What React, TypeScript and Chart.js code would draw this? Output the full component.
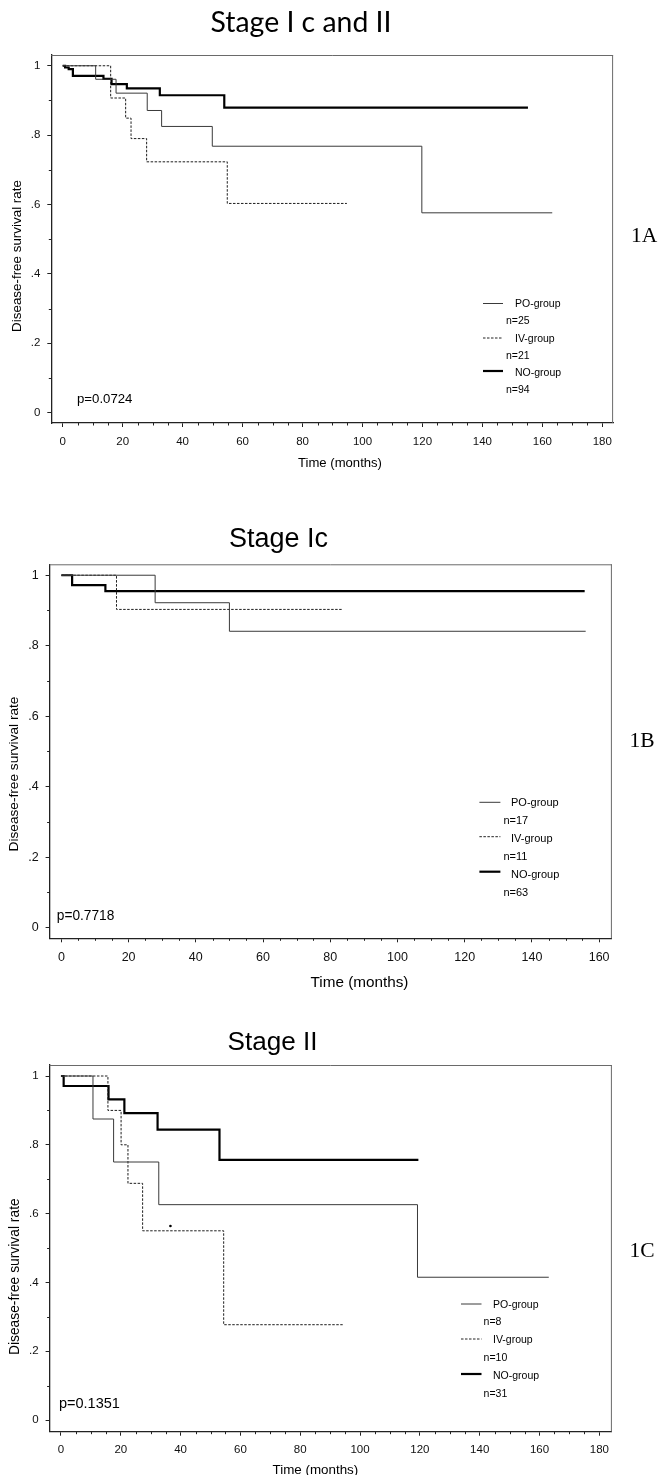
import React, { useEffect, useRef } from "react";
import { Chart, registerables } from "chart.js";

Chart.register(...registerables);

// ---------------- DATA ----------------
// Panel 1A: Stage I c and II  (time in months, disease-free survival)
const A_PO_T = [0, 11.0, 17.8, 28.2, 33.0, 49.9, 119.8, 163.3];
const A_PO_S = [1, 0.961, 0.921, 0.871, 0.825, 0.768, 0.576, 0.576];
const A_IV_T = [0, 16.0, 21.0, 22.8, 28.0, 54.9, 94.8];
const A_IV_S = [1, 0.907, 0.849, 0.79, 0.723, 0.603, 0.603];
const A_NO_T = [0, 0.8, 2.0, 3.4, 13.6, 16.3, 21.4, 32.4, 53.9, 155.2];
const A_NO_S = [1, 0.995, 0.99, 0.971, 0.962, 0.947, 0.935, 0.915, 0.879, 0.879];
const A_N = ["n=25", "n=21", "n=94"];

// Panel 1B: Stage Ic
const B_PO_T = [0, 27.9, 50.0, 156.0];
const B_PO_S = [1, 0.922, 0.841, 0.841];
const B_IV_T = [0, 16.4, 83.8];
const B_IV_S = [1, 0.903, 0.903];
const B_NO_T = [0, 3.2, 13.1, 155.7];
const B_NO_S = [1, 0.972, 0.955, 0.955];
const B_N = ["n=17", "n=11", "n=63"];

// Panel 1C: Stage II
const C_PO_T = [0, 10.7, 17.6, 32.7, 119.2, 163.1];
const C_PO_S = [1, 0.875, 0.75, 0.626, 0.415, 0.415];
const C_IV_T = [0, 15.7, 20.1, 22.4, 27.3, 54.4, 94.2];
const C_IV_S = [1, 0.9, 0.8, 0.688, 0.55, 0.277, 0.277];
const C_NO_T = [0, 0.9, 15.9, 21.2, 32.3, 53.0, 119.5];
const C_NO_S = [1, 0.971, 0.932, 0.892, 0.844, 0.756, 0.756];
const C_MARK_T = [36.6];
const C_MARK_S = [0.564];
const C_N = ["n=8", "n=10", "n=31"];

const GROUPS = ["PO-group", "IV-group", "NO-group"];
const X_TICKS_180 = [0, 20, 40, 60, 80, 100, 120, 140, 160, 180];
const X_TICKS_160 = [0, 20, 40, 60, 80, 100, 120, 140, 160];
const Y_TICKS = [0, 0.2, 0.4, 0.6, 0.8, 1];
const Y_TICK_LABELS = ["0", ".2", ".4", ".6", ".8", "1"];
const X_TITLE = "Time (months)";
const Y_TITLE = "Disease-free survival rate";

// ---------------- STYLE / LAYOUT ----------------
const SANS = '"Liberation Sans", Arial, Helvetica, sans-serif';
const SERIF = '"Liberation Serif", "Times New Roman", serif';
const HUMANIST = 'Lato, "Open Sans", "Noto Sans", sans-serif';
const W = 659;

type Pt = { x: number; y: number };
const pts = (t: number[], s: number[]): Pt[] => t.map((x, i) => ({ x, y: s[i] }));

interface Panel {
  top: number;
  height: number;
  frame: { l: number; r: number; t: number; b: number };
  xMin: number;
  xMax: number;
  yMin: number;
  yMax: number;
  xTicks: number[];
  tickSize: number;
  po: Pt[];
  iv: Pt[];
  no: Pt[];
  marks: Pt[];
  title: { text: string; cx: number; base: number; w: number; font: string };
  yTitle: { cx: number; cy: number; w: number };
  xTitle: { cx: number; cy: number; w: number };
  p: { text: string; x: number; cy: number; w: number };
  tag: { text: string; x: number; base: number };
  legend: {
    lx1: number;
    lx2: number;
    ly: number[];
    tx: number;
    ty: number[];
    nx: number;
    ny: number[];
    n: string[];
    size: number;
  };
}

const PANELS: Panel[] = [
  {
    top: 0,
    height: 475,
    frame: { l: 51.3, r: 613.1, t: 55, b: 423 },
    xMin: -3.8,
    xMax: 183.6,
    yMin: -0.03,
    yMax: 1.031,
    xTicks: X_TICKS_180,
    tickSize: 11.5,
    po: pts(A_PO_T, A_PO_S),
    iv: pts(A_IV_T, A_IV_S),
    no: pts(A_NO_T, A_NO_S),
    marks: [],
    title: { text: "Stage I c and II", cx: 301, base: 31.7, w: 181, font: HUMANIST },
    yTitle: { cx: 17.7, cy: 256, w: 152 },
    xTitle: { cx: 340, cy: 463, w: 84 },
    p: { text: "p=0.0724", x: 77, cy: 399, w: 55.5 },
    tag: { text: "1A", x: 631, base: 242 },
    legend: {
      lx1: 483,
      lx2: 503,
      ly: [303.5, 338, 371],
      tx: 515,
      ty: [304.3, 338.7, 373.3],
      nx: 506,
      ny: [321, 355.7, 390.5],
      n: A_N,
      size: 10.5,
    },
  },
  {
    top: 480,
    height: 510,
    frame: { l: 49.6, r: 611.9, t: 564.3, b: 938.3 },
    xMin: -3.5,
    xMax: 163.8,
    yMin: -0.03,
    yMax: 1.031,
    xTicks: X_TICKS_160,
    tickSize: 12.5,
    po: pts(B_PO_T, B_PO_S),
    iv: pts(B_IV_T, B_IV_S),
    no: pts(B_NO_T, B_NO_S),
    marks: [],
    title: { text: "Stage Ic", cx: 278.5, base: 546.7, w: 99, font: SANS },
    yTitle: { cx: 14.7, cy: 774, w: 155 },
    xTitle: { cx: 359.5, cy: 983, w: 98 },
    p: { text: "p=0.7718", x: 56.8, cy: 916.7, w: 57.6 },
    tag: { text: "1B", x: 629.5, base: 747.3 },
    legend: {
      lx1: 479.4,
      lx2: 500.4,
      ly: [802.3, 836.7, 871.7],
      tx: 511,
      ty: [803, 839, 875],
      nx: 503.4,
      ny: [821, 857, 893],
      n: B_N,
      size: 11,
    },
  },
  {
    top: 990,
    height: 485,
    frame: { l: 49.6, r: 611.9, t: 1065, b: 1431.7 },
    xMin: -3.8,
    xMax: 184.2,
    yMin: -0.034,
    yMax: 1.032,
    xTicks: X_TICKS_180,
    tickSize: 11.5,
    po: pts(C_PO_T, C_PO_S),
    iv: pts(C_IV_T, C_IV_S),
    no: pts(C_NO_T, C_NO_S),
    marks: pts(C_MARK_T, C_MARK_S),
    title: { text: "Stage II", cx: 272.5, base: 1050, w: 90, font: SANS },
    yTitle: { cx: 14.7, cy: 1276.7, w: 157 },
    xTitle: { cx: 315.4, cy: 1470, w: 85.8 },
    p: { text: "p=0.1351", x: 58.9, cy: 1404, w: 61 },
    tag: { text: "1C", x: 629.5, base: 1256.7 },
    legend: {
      lx1: 461,
      lx2: 481.5,
      ly: [1304, 1339, 1374],
      tx: 493,
      ty: [1305, 1340, 1376],
      nx: 483.6,
      ny: [1322, 1358, 1394],
      n: C_N,
      size: 10.5,
    },
  },
];

function fitFont(ctx: CanvasRenderingContext2D, text: string, family: string, w: number) {
  ctx.font = `100px ${family}`;
  const m = ctx.measureText(text).width || 1;
  return (100 * w) / m;
}

function makeDecorPlugin(p: Panel) {
  return {
    id: "decor",
    afterDraw(chart: any) {
      const ctx: CanvasRenderingContext2D = chart.ctx;
      const ca = chart.chartArea;
      const xs = chart.scales.x;
      const ys = chart.scales.y;
      const off = p.top;
      ctx.save();
      // top and right frame lines
      ctx.strokeStyle = "#6a6a6a";
      ctx.lineWidth = 1;
      ctx.beginPath();
      ctx.moveTo(ca.left, ca.top + 0.5);
      ctx.lineTo(ca.right, ca.top + 0.5);
      ctx.moveTo(ca.right - 0.5, ca.top);
      ctx.lineTo(ca.right - 0.5, ca.bottom);
      ctx.stroke();
      // minor ticks
      ctx.strokeStyle = "#222";
      ctx.beginPath();
      const lastX = p.xTicks[p.xTicks.length - 1];
      for (let v = 0; v <= lastX; v += 5) {
        if (v % 20 === 0) continue;
        const px = Math.round(xs.getPixelForValue(v)) + 0.5;
        ctx.moveTo(px, ca.bottom);
        ctx.lineTo(px, ca.bottom + 2.5);
      }
      for (let k = 1; k < 10; k += 2) {
        const py = Math.round(ys.getPixelForValue(k / 10)) + 0.5;
        ctx.moveTo(ca.left, py);
        ctx.lineTo(ca.left - 2.5, py);
      }
      ctx.stroke();

      ctx.fillStyle = "#000";
      // title
      let s = fitFont(ctx, p.title.text, p.title.font, p.title.w);
      ctx.font = `${s}px ${p.title.font}`;
      ctx.textAlign = "center";
      ctx.textBaseline = "alphabetic";
      ctx.fillText(p.title.text, p.title.cx, p.title.base - off);
      // x axis title
      s = fitFont(ctx, X_TITLE, SANS, p.xTitle.w);
      ctx.font = `${s}px ${SANS}`;
      ctx.textBaseline = "middle";
      ctx.fillText(X_TITLE, p.xTitle.cx, p.xTitle.cy - off);
      // y axis title
      s = fitFont(ctx, Y_TITLE, SANS, p.yTitle.w);
      ctx.save();
      ctx.translate(p.yTitle.cx, p.yTitle.cy - off);
      ctx.rotate(-Math.PI / 2);
      ctx.font = `${s}px ${SANS}`;
      ctx.textAlign = "center";
      ctx.textBaseline = "middle";
      ctx.fillText(Y_TITLE, 0, 0);
      ctx.restore();
      // p value
      s = fitFont(ctx, p.p.text, SANS, p.p.w);
      ctx.font = `${s}px ${SANS}`;
      ctx.textAlign = "left";
      ctx.textBaseline = "middle";
      ctx.fillText(p.p.text, p.p.x, p.p.cy - off);
      // panel tag
      ctx.font = `21.5px ${SERIF}`;
      ctx.textBaseline = "alphabetic";
      ctx.fillText(p.tag.text, p.tag.x, p.tag.base - off);
      // legend
      const lg = p.legend;
      const styles = [
        { w: 1, dash: [] as number[], c: "#3a3a3a" },
        { w: 1, dash: [2.5, 1.5], c: "#222" },
        { w: 2.2, dash: [] as number[], c: "#000" },
      ];
      for (let i = 0; i < 3; i++) {
        ctx.strokeStyle = styles[i].c;
        ctx.lineWidth = styles[i].w;
        ctx.setLineDash(styles[i].dash);
        ctx.beginPath();
        ctx.moveTo(lg.lx1, lg.ly[i] - off);
        ctx.lineTo(lg.lx2, lg.ly[i] - off);
        ctx.stroke();
      }
      ctx.setLineDash([]);
      ctx.font = `${lg.size}px ${SANS}`;
      ctx.textBaseline = "middle";
      ctx.textAlign = "left";
      for (let i = 0; i < 3; i++) {
        ctx.fillText(GROUPS[i], lg.tx, lg.ty[i] - off);
        ctx.fillText(lg.n[i], lg.nx, lg.ny[i] - off);
      }
      ctx.restore();
    },
  };
}

function PanelChart({ p }: { p: Panel }) {
  const ref = useRef<HTMLCanvasElement | null>(null);
  useEffect(() => {
    if (!ref.current) return;
    const xAxisH = p.height - (p.frame.b - p.top);
    const chart = new Chart(ref.current, {
      type: "line",
      data: {
        datasets: [
          {
            label: GROUPS[0],
            data: p.po,
            borderColor: "#3a3a3a",
            borderWidth: 1,
            stepped: true,
            pointRadius: 0,
            fill: false,
          },
          {
            label: GROUPS[1],
            data: p.iv,
            borderColor: "#1e1e1e",
            borderWidth: 1,
            borderDash: [2.5, 1.5],
            stepped: true,
            pointRadius: 0,
            fill: false,
          },
          {
            label: GROUPS[2],
            data: p.no,
            borderColor: "#000",
            borderWidth: 2.2,
            stepped: true,
            pointRadius: 0,
            fill: false,
          },
          {
            label: "mark",
            data: p.marks,
            showLine: false,
            pointRadius: 1.3,
            pointBackgroundColor: "#000",
            pointBorderWidth: 0,
          },
        ] as any,
      },
      options: {
        animation: false,
        responsive: false,
        events: [],
        layout: {
          padding: { left: 0, right: W - p.frame.r, top: p.frame.t - p.top, bottom: 0 },
        },
        plugins: {
          legend: { display: false },
          tooltip: { enabled: false },
          title: { display: false },
        },
        scales: {
          x: {
            type: "linear",
            min: p.xMin,
            max: p.xMax,
            afterBuildTicks: (s: any) => {
              s.ticks = p.xTicks.map((v) => ({ value: v }));
            },
            afterFit: (s: any) => {
              s.height = xAxisH;
            },
            grid: { drawOnChartArea: false, tickLength: 4, color: "#222", lineWidth: 1 },
            border: { display: true, color: "#222", width: 1.3 },
            ticks: {
              color: "#111",
              font: { family: SANS, size: p.tickSize },
              padding: 7.5,
              maxRotation: 0,
              autoSkip: false,
              callback: (v: any) => String(v),
            },
          },
          y: {
            type: "linear",
            min: p.yMin,
            max: p.yMax,
            afterBuildTicks: (s: any) => {
              s.ticks = Y_TICKS.map((v) => ({ value: v }));
            },
            afterFit: (s: any) => {
              s.width = p.frame.l;
            },
            grid: { drawOnChartArea: false, tickLength: 4, color: "#222", lineWidth: 1 },
            border: { display: true, color: "#222", width: 1.3 },
            ticks: {
              color: "#111",
              font: { family: SANS, size: p.tickSize },
              padding: 7,
              autoSkip: false,
              callback: (v: any) => {
                const i = Y_TICKS.findIndex((t) => Math.abs(t - Number(v)) < 1e-6);
                return i >= 0 ? Y_TICK_LABELS[i] : "";
              },
            },
          },
        },
      } as any,
      plugins: [makeDecorPlugin(p)],
    });
    return () => chart.destroy();
  }, [p]);
  return (
    <canvas
      ref={ref}
      width={W}
      height={p.height}
      style={{ position: "absolute", left: 0, top: p.top, width: W, height: p.height, display: "block" }}
    />
  );
}

export default function App() {
  return (
    <div style={{ position: "absolute", left: 0, top: 0, width: W, height: 1475, background: "#fff", overflow: "hidden" }}>
      {PANELS.map((p, i) => (
        <PanelChart key={i} p={p} />
      ))}
    </div>
  );
}
